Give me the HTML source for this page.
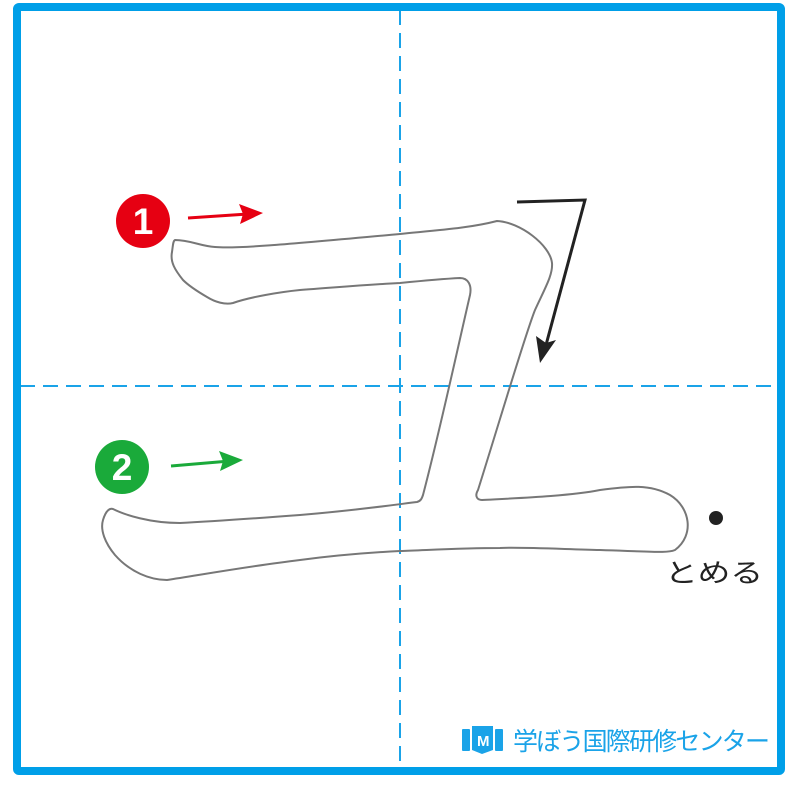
<!DOCTYPE html>
<html><head><meta charset="utf-8"><style>
html,body{margin:0;padding:0;background:#fff;}
svg{display:block;}
</style></head><body>
<svg width="800" height="788" viewBox="0 0 800 788" xmlns="http://www.w3.org/2000/svg">
<rect x="0" y="0" width="800" height="788" fill="#fff"/>
<line x1="400" y1="10" x2="400" y2="770" stroke="#1aa3e8" stroke-width="2" stroke-dasharray="15,8"/>
<line x1="20" y1="386" x2="780" y2="386" stroke="#1aa3e8" stroke-width="2" stroke-dasharray="15,8"/>
<rect x="17" y="7" width="764" height="764" fill="none" stroke="#009fe8" stroke-width="8" rx="2"/>
<path d="M175,240 C190,240 200,246 215,247 C240,249 300,243 400,234 C440,230 470,228 497,221 C520,222 550,245 552,263 C553,275 545,288 535,310 C525,335 500,420 478,490 C474,497 478,500 482,500 C520,498 570,496 600,490 C630,486 650,484 670,495 C690,507 695,535 675,550 C668,553 660,552 600,550 C560,549 520,547 500,548 C460,548 430,550 400,551 C360,553 330,556 300,560 C250,566 200,575 167,580 C150,580 130,572 115,555 C105,543 100,530 103,520 C106,510 110,508 113,509 C125,515 150,523 180,523 C220,521 260,518 300,515 C360,510 400,504 417,502 C421,501 422,498 423,495 C440,430 455,360 470,295 C472,285 468,278 460,278 C440,279 420,281 400,283 C360,285 330,288 300,290 C280,292 250,297 233,303 C225,305 215,302 207,297 C195,290 188,285 183,280 C175,270 170,262 172,252 C173,245 173,241 175,240 Z" fill="none" stroke="#777" stroke-width="2"/>
<circle cx="143" cy="221" r="27" fill="#e60012"/>
<text x="143" y="234" font-family="Liberation Sans, sans-serif" font-weight="bold" font-size="37" fill="#fff" text-anchor="middle">1</text>
<circle cx="122" cy="467" r="27" fill="#1aaa3a"/>
<text x="122" y="480" font-family="Liberation Sans, sans-serif" font-weight="bold" font-size="37" fill="#fff" text-anchor="middle">2</text>
<line x1="188" y1="218" x2="248" y2="214" stroke="#e60012" stroke-width="3"/>
<polygon points="263,213 239,204 243,214 240,224" fill="#e60012"/>
<line x1="171" y1="466" x2="230" y2="461" stroke="#1aaa3a" stroke-width="3"/>
<polygon points="243,460 219,451 223,461 220,471" fill="#1aaa3a"/>
<polyline points="517,202 585,200 546,345" fill="none" stroke="#222" stroke-width="3"/>
<polygon points="540,363 536,336 546,343 556,340" fill="#222"/>
<circle cx="716" cy="518" r="7" fill="#222"/>
<text x="665" y="582" font-family="Liberation Sans, 'Noto Sans CJK JP', sans-serif" font-size="26" fill="#222" textLength="98" lengthAdjust="spacingAndGlyphs">とめる</text>
<g fill="#1aa3e8">
<rect x="462" y="729" width="8" height="22" rx="1"/>
<rect x="495" y="729" width="8" height="22" rx="1"/>
<path d="M472,726 L493,726 L493,750 L482,754 L472,750 Z"/>
</g>
<text x="477" y="746" font-family="Liberation Sans, sans-serif" font-weight="bold" font-size="15" fill="#fff">M</text>
<text x="513" y="750" font-family="Liberation Sans, 'Noto Sans CJK JP', sans-serif" font-size="25" fill="#1aa3e8" textLength="257">学ぼう国際研修センター</text>
</svg>
</body></html>
